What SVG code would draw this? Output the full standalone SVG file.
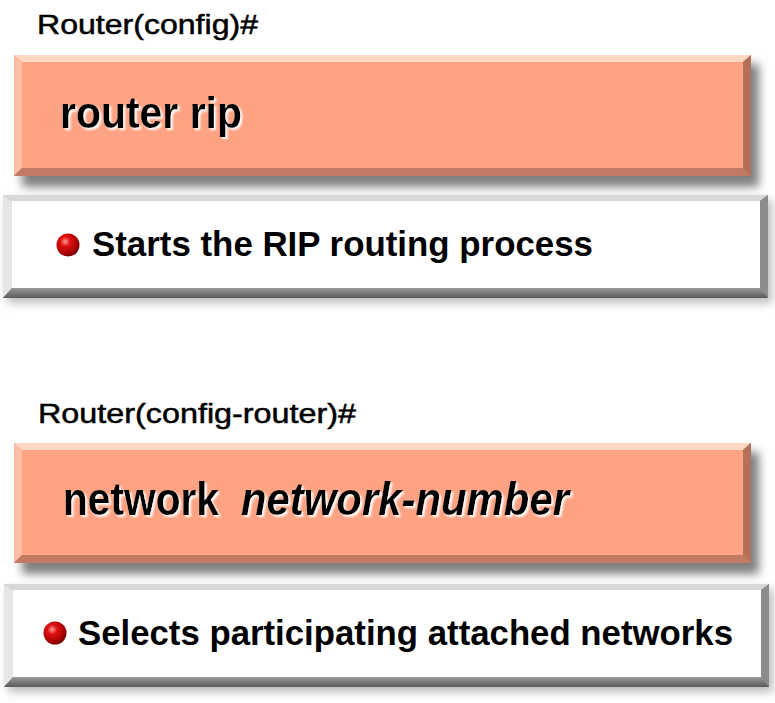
<svg xmlns="http://www.w3.org/2000/svg" width="775" height="703" viewBox="0 0 775 703">
<defs>
<style>
.lbl{font-family:"Liberation Sans",Arial,sans-serif;font-size:27px;fill:#000;stroke:#000;stroke-width:0.5}
.cmd{font-family:"Liberation Sans",Arial,sans-serif;font-weight:bold;fill:#000;filter:url(#wshadow)}
.desc{font-family:"Liberation Sans",Arial,sans-serif;font-weight:bold;font-size:35px;fill:#000}
.face{fill:#FDA282}
.sTop{fill:#FFD8C4}
.sLeft{fill:#FCBFA6}
.sRight{fill:#B5705A}
.sBot{fill:#C27A62}
.wFace{fill:#FFFFFF}
.wTop{fill:#D8D8D8}
.wLeft{fill:#E6E6E6}
.wRight{fill:#8C8C8C}
.wBot{fill:url(#wBotG)}
</style>
<linearGradient id="wBotG" x1="0" y1="0" x2="0" y2="1">
<stop offset="0" stop-color="#9A9A9A"/>
<stop offset="1" stop-color="#5A5A5A"/>
</linearGradient>
<radialGradient id="ball" cx="0.38" cy="0.35" r="0.7">
<stop offset="0" stop-color="#FF9A9A"/>
<stop offset="0.3" stop-color="#E01010"/>
<stop offset="0.8" stop-color="#A00000"/>
<stop offset="1" stop-color="#600000"/>
</radialGradient>
<filter id="shadow" x="-5%" y="-20%" width="110%" height="150%">
<feGaussianBlur stdDeviation="5"/>
</filter>
<filter id="wshadow" x="-5%" y="-20%" width="110%" height="150%">
<feOffset in="SourceAlpha" dx="2" dy="2" result="off"/>
<feGaussianBlur in="off" stdDeviation="0.8" result="blur"/>
<feFlood flood-color="#FFFFFF" result="white"/>
<feComposite in="white" in2="blur" operator="in" result="sh"/>
<feMerge>
<feMergeNode in="sh"/>
<feMergeNode in="SourceGraphic"/>
</feMerge>
</filter>
</defs>
<rect width="775" height="703" fill="#FFFFFF"/>

<g id="label1">
<text class="lbl" x="37" y="34" textLength="221" lengthAdjust="spacingAndGlyphs">Router(config)#</text>
</g>

<g id="cmd1">
<rect x="22" y="64" width="737" height="123" fill="#555" opacity="0.75" filter="url(#shadow)"/>
<rect x="14" y="55" width="737" height="121" class="sBot"/>
<polygon class="sTop" points="14,55 751,55 743,62 22,62"/>
<polygon class="sLeft" points="14,55 22,62 22,168 14,176"/>
<polygon class="sRight" points="751,55 751,176 743,168 743,62"/>
<polygon class="sBot" points="14,176 751,176 743,168 22,168"/>
<rect x="22" y="62" width="721" height="106" class="face"/>
<text class="cmd" x="60" y="128" font-size="44" textLength="182" lengthAdjust="spacingAndGlyphs">router rip</text>
</g>

<g id="desc1">
<rect x="7" y="200" width="765" height="103" fill="#777" opacity="0.5" filter="url(#shadow)"/>
<rect x="3" y="195" width="765" height="103" class="wRight"/>
<polygon class="wTop" points="3,195 768,195 760,201 12,201"/>
<polygon class="wLeft" points="3,195 12,201 12,288 3,298"/>
<polygon class="wRight" points="768,195 768,298 760,288 760,201"/>
<polygon class="wBot" points="3,298 768,298 760,288 12,288"/>
<rect x="12" y="201" width="748" height="87" class="wFace"/>
<circle cx="68" cy="245" r="11.5" fill="url(#ball)"/>
<text class="desc" x="92" y="256" textLength="501" lengthAdjust="spacingAndGlyphs">Starts the RIP routing process</text>
</g>

<g id="label2">
<text class="lbl" x="38" y="423" textLength="318" lengthAdjust="spacingAndGlyphs">Router(config-router)#</text>
</g>

<g id="cmd2">
<rect x="22" y="452" width="737" height="122" fill="#555" opacity="0.75" filter="url(#shadow)"/>
<rect x="14" y="443" width="737" height="120" class="sBot"/>
<polygon class="sTop" points="14,443 751,443 743,450 22,450"/>
<polygon class="sLeft" points="14,443 22,450 22,555 14,563"/>
<polygon class="sRight" points="751,443 751,563 743,555 743,450"/>
<polygon class="sBot" points="14,563 751,563 743,555 22,555"/>
<rect x="22" y="450" width="721" height="105" class="face"/>
<text class="cmd" x="63" y="515" font-size="46" textLength="156" lengthAdjust="spacingAndGlyphs">network</text>
<text class="cmd" x="241" y="515" font-size="46" font-style="italic" textLength="328" lengthAdjust="spacingAndGlyphs">network-number</text>
</g>

<g id="desc2">
<rect x="8" y="589" width="765" height="103" fill="#777" opacity="0.5" filter="url(#shadow)"/>
<rect x="4" y="584" width="765" height="103" class="wRight"/>
<polygon class="wTop" points="4,584 769,584 761,590 13,590"/>
<polygon class="wLeft" points="4,584 13,590 13,677 4,687"/>
<polygon class="wRight" points="769,584 769,687 761,677 761,590"/>
<polygon class="wBot" points="4,687 769,687 761,677 13,677"/>
<rect x="13" y="590" width="748" height="87" class="wFace"/>
<circle cx="55" cy="633" r="11.5" fill="url(#ball)"/>
<text class="desc" x="78" y="645" textLength="655" lengthAdjust="spacingAndGlyphs">Selects participating attached networks</text>
</g>

<g id="connectors"></g>
</svg>
